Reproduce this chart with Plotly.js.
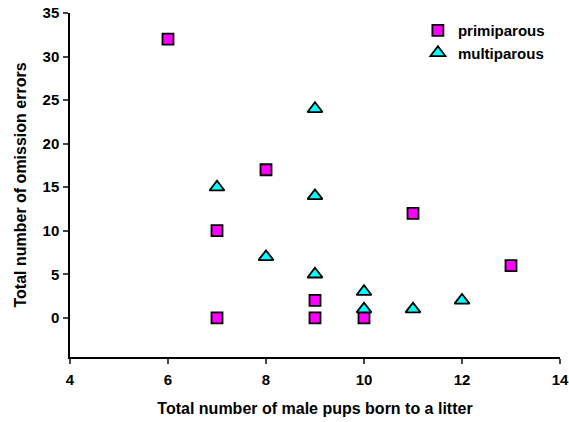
<!DOCTYPE html>
<html><head><meta charset="utf-8">
<script src="https://cdn.plot.ly/plotly-3.0.1.min.js"></script>
<style>html,body{margin:0;padding:0;background:#fff}#c{width:569px;height:422px}</style>
</head><body><div id="c"></div>
<script>
var primiX = [6, 7, 7, 8, 9, 9, 10, 11, 13];
var primiY = [32, 10, 0, 17, 2, 0, 0, 12, 6];
var multiX = [7, 8, 9, 9, 9, 10, 10, 11, 12];
var multiY = [15, 7, 24, 14, 5, 3, 1, 1, 2];
var seriesNames = ['primiparous', 'multiparous'];
var xTicks = [4, 6, 8, 10, 12, 14];
var yTicks = [0, 5, 10, 15, 20, 25, 30, 35];

var traces = [
  {x: primiX, y: primiY, name: seriesNames[0], mode: 'markers', type: 'scatter',
   marker: {symbol: 'square', size: 11, color: '#FF00FF', line: {color: '#000', width: 1.8}}},
  {x: multiX, y: multiY, name: seriesNames[1], mode: 'markers', type: 'scatter',
   marker: {symbol: 'triangle-up', size: 13, color: '#00FFFF', line: {color: '#000', width: 1.8}}}
];
var f = 'Arial';
var layout = {
  width: 569, height: 422,
  margin: {l: 70, r: 9, t: 13, b: 65},
  paper_bgcolor: '#fff', plot_bgcolor: '#fff',
  font: {family: f, color: '#000', size: 15, weight: 'bold'},
  xaxis: {range: [4, 14], tickvals: xTicks, ticks: 'outside', ticklen: 5, tickwidth: 1.5,
    ticklabelstandoff: 3,
    showline: true, linecolor: '#000', linewidth: 1.5, showgrid: false, zeroline: false,
    tickfont: {family: f, size: 15, color: '#000', weight: 'bold'},
    title: {text: 'Total number of male pups born to a litter', font: {family: f, size: 16, color: '#000', weight: 'bold'}, standoff: 16}},
  yaxis: {range: [-4.5, 35], tickvals: yTicks, ticks: 'outside', ticklen: 5, tickwidth: 1.5,
    ticklabelstandoff: 1,
    showline: true, linecolor: '#000', linewidth: 1.5, showgrid: false, zeroline: false,
    tickfont: {family: f, size: 15, color: '#000', weight: 'bold'},
    title: {text: 'Total number of omission errors', font: {family: f, size: 16, color: '#000', weight: 'bold'}, standoff: 12}},
  showlegend: true,
  legend: {x: 0.71, y: 0.997, xanchor: 'left', yanchor: 'top', bgcolor: 'rgba(0,0,0,0)',
    font: {family: f, size: 15, color: '#000', weight: 'bold'}, tracegroupgap: 0, itemwidth: 30}
};
Plotly.newPlot('c', traces, layout, {displayModeBar: false});
</script></body></html>
